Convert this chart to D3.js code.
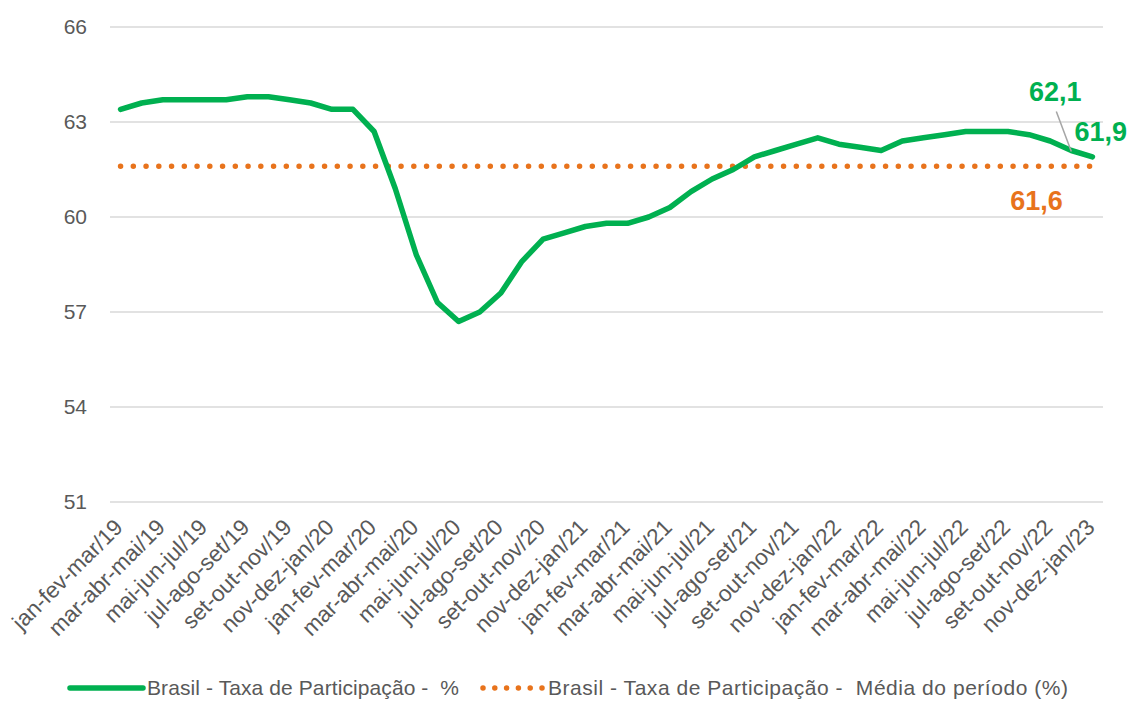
<!DOCTYPE html>
<html>
<head>
<meta charset="utf-8">
<script src="https://cdn.jsdelivr.net/npm/d3@7"></script>
<style>
  html, body { margin: 0; padding: 0; background: #fff; }
  svg { display: block; font-family: "Liberation Sans", Arial, sans-serif; }
  text { white-space: pre; }
</style>
</head>
<body>
<svg id="chart" width="1134" height="702"></svg>
<script>
const categories = [
  "jan-fev-mar/19","fev-mar-abr/19","mar-abr-mai/19","abr-mai-jun/19","mai-jun-jul/19","jun-jul-ago/19",
  "jul-ago-set/19","ago-set-out/19","set-out-nov/19","out-nov-dez/19","nov-dez-jan/20","dez-jan-fev/20",
  "jan-fev-mar/20","fev-mar-abr/20","mar-abr-mai/20","abr-mai-jun/20","mai-jun-jul/20","jun-jul-ago/20",
  "jul-ago-set/20","ago-set-out/20","set-out-nov/20","out-nov-dez/20","nov-dez-jan/21","dez-jan-fev/21",
  "jan-fev-mar/21","fev-mar-abr/21","mar-abr-mai/21","abr-mai-jun/21","mai-jun-jul/21","jun-jul-ago/21",
  "jul-ago-set/21","ago-set-out/21","set-out-nov/21","out-nov-dez/21","nov-dez-jan/22","dez-jan-fev/22",
  "jan-fev-mar/22","fev-mar-abr/22","mar-abr-mai/22","abr-mai-jun/22","mai-jun-jul/22","jun-jul-ago/22",
  "jul-ago-set/22","ago-set-out/22","set-out-nov/22","out-nov-dez/22","nov-dez-jan/23"
];
const taxaParticipacao = [
  63.4,63.6,63.7,63.7,63.7,63.7,63.8,63.8,63.7,63.6,63.4,63.4,
  62.7,60.9,58.8,57.3,56.7,57.0,57.6,58.6,59.3,59.5,59.7,59.8,
  59.8,60.0,60.3,60.8,61.2,61.5,61.9,62.1,62.3,62.5,62.3,62.2,
  62.1,62.4,62.5,62.6,62.7,62.7,62.7,62.6,62.4,62.1,61.9
];
const mediaPeriodo = 61.6;
const mediaSeries = categories.map(() => mediaPeriodo);
const yTicks = [51, 54, 57, 60, 63, 66];
const seriesNames = ["Brasil - Taxa de Participação -  %", "Brasil - Taxa de Participação -  Média do período (%)"];

const green = "#00B050", orange = "#E8731C", grid = "#D9D9D9", txt = "#595959";
const svg = d3.select("#chart");

const x = d3.scaleBand().domain(categories).range([110, 1103]);
const y = d3.scaleLinear().domain([51, 66]).range([502, 27]);
const cx = c => x(c) + x.bandwidth() / 2;

// gridlines
svg.append("g").selectAll("line").data(yTicks).join("line")
  .attr("x1", 110).attr("x2", 1103)
  .attr("y1", d => y(d)).attr("y2", d => y(d))
  .attr("stroke", grid).attr("stroke-width", 1.5);

// y labels
svg.append("g").selectAll("text").data(yTicks).join("text")
  .attr("x", 87).attr("y", d => y(d)).attr("dy", "0.35em")
  .attr("text-anchor", "end").attr("fill", txt).attr("font-size", 21)
  .text(d => d);

// x labels
svg.append("g").selectAll("text").data(categories.filter((c, i) => i % 2 === 0)).join("text")
  .attr("transform", c => `translate(${cx(c) - 2},${523}) rotate(-45)`)
  .attr("dy", "0.35em")
  .attr("text-anchor", "end").attr("fill", txt).attr("font-size", 22.5)
  .text(c => c);

// average dotted line
svg.append("path").datum(mediaSeries)
  .attr("d", d3.line().x((d, i) => cx(categories[i])).y(d => y(d)))
  .attr("fill", "none").attr("stroke", orange).attr("stroke-width", 5.5)
  .attr("stroke-linecap", "round").attr("stroke-dasharray", "0 12.75");

// main line
svg.append("path").datum(taxaParticipacao)
  .attr("d", d3.line().x((d, i) => cx(categories[i])).y(d => y(d)))
  .attr("fill", "none").attr("stroke", green).attr("stroke-width", 5.5)
  .attr("stroke-linejoin", "round").attr("stroke-linecap", "round");

// data labels
const n = categories.length;
const pPrev = [cx(categories[n - 2]), y(taxaParticipacao[n - 2])];
const pLast = [cx(categories[n - 1]), y(taxaParticipacao[n - 1])];
const pAvg = [cx(categories[n - 1]), y(mediaSeries[n - 1])];
const fmt = v => d3.format(".1f")(v).replace(".", ",");

svg.append("line")
  .attr("x1", pPrev[0] - 15).attr("y1", pPrev[1] - 39)
  .attr("x2", pPrev[0]).attr("y2", pPrev[1] + 1)
  .attr("stroke", "#A6A6A6").attr("stroke-width", 1.5);

svg.append("text").attr("x", pPrev[0] - 16).attr("y", pPrev[1] - 50)
  .attr("text-anchor", "middle").attr("font-size", 27).attr("font-weight", "bold")
  .attr("fill", green).text(fmt(taxaParticipacao[n - 2]));
svg.append("text").attr("x", pLast[0] - 18).attr("y", pLast[1] - 16)
  .attr("text-anchor", "start").attr("font-size", 27).attr("font-weight", "bold")
  .attr("fill", green).text(fmt(taxaParticipacao[n - 1]));
svg.append("text").attr("x", pAvg[0] - 56).attr("y", pAvg[1] + 44)
  .attr("text-anchor", "middle").attr("font-size", 27).attr("font-weight", "bold")
  .attr("fill", orange).text(fmt(mediaPeriodo));

// legend
const lg = svg.append("g");
lg.append("line").attr("x1", 70).attr("x2", 143).attr("y1", 688).attr("y2", 688)
  .attr("stroke", green).attr("stroke-width", 5.5).attr("stroke-linecap", "round");
lg.append("text").attr("x", 147).attr("y", 688).attr("dy", "0.35em")
  .attr("font-size", 21).attr("fill", txt)
  .attr("textLength", 312).attr("lengthAdjust", "spacing").text(seriesNames[0]);
lg.append("line").attr("x1", 483).attr("x2", 545).attr("y1", 688).attr("y2", 688)
  .attr("stroke", orange).attr("stroke-width", 5.5)
  .attr("stroke-linecap", "round").attr("stroke-dasharray", "0 11.8");
lg.append("text").attr("x", 548).attr("y", 688).attr("dy", "0.35em")
  .attr("font-size", 21).attr("fill", txt)
  .attr("textLength", 520).attr("lengthAdjust", "spacing").text(seriesNames[1]);
</script>
</body>
</html>
